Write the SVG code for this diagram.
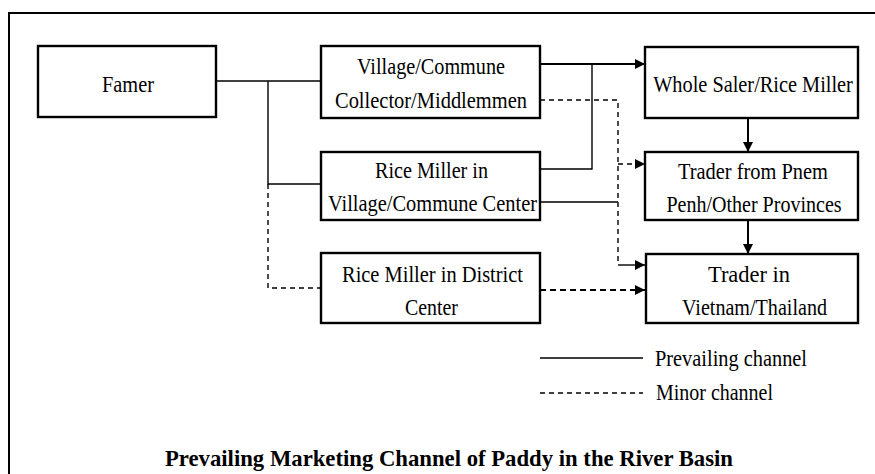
<svg xmlns="http://www.w3.org/2000/svg" width="875" height="474" viewBox="0 0 875 474">
<style>
.box{fill:#fff;stroke:#000;stroke-width:2.4}
.t{font-family:"Liberation Serif","Times New Roman",serif;font-size:24px;fill:#000;text-anchor:middle}
.l{text-anchor:start}
.s{fill:none;stroke:#000;stroke-width:1.4}
.sb{fill:none;stroke:#000;stroke-width:2}
.d{fill:none;stroke:#000;stroke-width:1.4;stroke-dasharray:5,4}
.db{fill:none;stroke:#000;stroke-width:2;stroke-dasharray:6,4}
.title{font-family:"Liberation Serif","Times New Roman",serif;font-size:23px;font-weight:bold;fill:#000}
</style>
<defs>
<marker id="ah" viewBox="0 0 10 10" refX="10" refY="5" markerWidth="10" markerHeight="10" markerUnits="userSpaceOnUse" orient="auto">
<path d="M0,0 L10,5 L0,10 Z" fill="#000"/>
</marker>
</defs>
<rect width="875" height="474" fill="#fff"/>
<path d="M9,474 V13 H875" fill="none" stroke="#000" stroke-width="2"/>
<g id="connectors">
<path class="s" d="M216,81 H321"/>
<path class="s" d="M268,81 V184 H321"/>
<path class="d" d="M268,184 V288 H321"/>
<path class="sb" d="M540,64 H645" marker-end="url(#ah)"/>
<path class="s" d="M540,169 H592 V64"/>
<path class="d" d="M540,100 H618 V265"/>
<path class="d" d="M618,164 H645" marker-end="url(#ah)"/>
<path class="s" d="M540,202 H618"/>
<path class="s" d="M618,265 H645" marker-end="url(#ah)"/>
<path class="db" d="M540,290 H645" marker-end="url(#ah)"/>
<path class="sb" d="M748,118 V152" marker-end="url(#ah)"/>
<path class="sb" d="M748,220 V254" marker-end="url(#ah)"/>
</g>
<g id="famer"><rect class="box" x="38" y="46" width="178" height="71"/><text class="t l" x="102" y="92" textLength="52" lengthAdjust="spacingAndGlyphs">Famer</text></g>
<g id="village-collector"><rect class="box" x="321" y="46" width="219" height="72"/><text class="t l" x="357" y="74" textLength="148" lengthAdjust="spacingAndGlyphs">Village/Commune</text><text class="t l" x="335" y="108" textLength="192" lengthAdjust="spacingAndGlyphs">Collector/Middlemmen</text></g>
<g id="rice-miller-village"><rect class="box" x="321" y="152" width="219" height="68"/><text class="t l" x="375" y="178" textLength="113" lengthAdjust="spacingAndGlyphs">Rice Miller in</text><text class="t l" x="328" y="211" textLength="209" lengthAdjust="spacingAndGlyphs">Village/Commune Center</text></g>
<g id="rice-miller-district"><rect class="box" x="321" y="253" width="219" height="70"/><text class="t l" x="342" y="282" textLength="181" lengthAdjust="spacingAndGlyphs">Rice Miller in District</text><text class="t l" x="405" y="315" textLength="53" lengthAdjust="spacingAndGlyphs">Center</text></g>
<g id="wholesaler"><rect class="box" x="645" y="47" width="213" height="71"/><text class="t" transform="translate(753,92) scale(0.85,1)" x="0" y="0" textLength="235" lengthAdjust="spacingAndGlyphs">Whole Saler/Rice Miller</text></g>
<g id="trader-pp"><rect class="box" x="645" y="152" width="213" height="68"/><text class="t l" x="678" y="179" textLength="150" lengthAdjust="spacingAndGlyphs">Trader from Pnem</text><text class="t" transform="translate(754,212) scale(0.83,1)" x="0" y="0" textLength="211" lengthAdjust="spacingAndGlyphs">Penh/Other Provinces</text></g>
<g id="trader-vn"><rect class="box" x="646" y="254" width="212" height="69"/><text class="t l" x="708" y="282" textLength="82" lengthAdjust="spacingAndGlyphs">Trader in</text><text class="t l" x="682" y="315" textLength="145" lengthAdjust="spacingAndGlyphs">Vietnam/Thailand</text></g>
<g id="legend">
<path class="s" d="M540,358 H643"/>
<text class="t l" x="655" y="366" textLength="152" lengthAdjust="spacingAndGlyphs">Prevailing channel</text>
<path class="d" d="M540,393 H643"/>
<text class="t l" x="656" y="400" textLength="117" lengthAdjust="spacingAndGlyphs">Minor channel</text>
</g>
<text class="title" x="165" y="466" textLength="568" lengthAdjust="spacingAndGlyphs">Prevailing Marketing Channel of Paddy in the River Basin</text>
</svg>
